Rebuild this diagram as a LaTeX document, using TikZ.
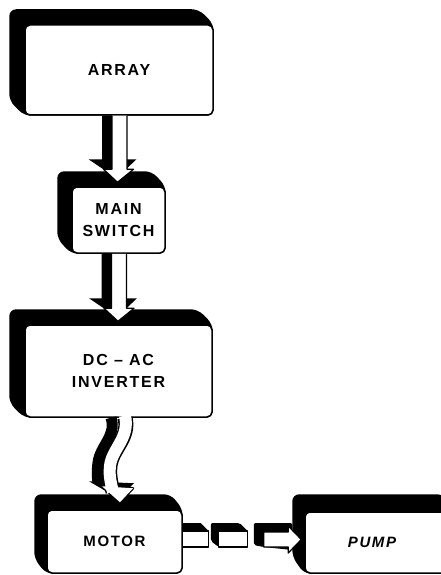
\documentclass[tikz,border=0pt]{standalone}
\usepackage{fontspec}
\setmainfont{Liberation Sans}
\newfontfamily\lblfont{Liberation Sans}[LetterSpace=11]
\usetikzlibrary{calc}
\pgfdeclarelayer{background}
\pgfsetlayers{background,main}
\newcommand\boxshadow[3]{%
  \fill[black, rounded corners=7pt] ($(#1.north west)+(#2,#3)$) -- ($(#1.north east)+(#2,#3)$)
    -- (#1.north east) -- (#1.south east) -- (#1.south west) -- ($(#1.south west)+(#2,#3)$) -- cycle;}
\newcommand\blockarrow[2]{% #1 top coordinate, #2 tip coordinate
  \fill[black] ($(#1)+(-17,0)$) -- ($(#1)+(-6,0)$) -- ($(#1 |- #2)+(-6,-23)$) -- ($(#2)+(19,-23)$)
    -- ($(#2)+(-1,-4)$) -- ($(#2)+(-29,-23)$) -- ($(#1 |- #2)+(-17,-23)$) -- cycle;
  \fill[white] ($(#1)+(-7,0)$) -- ($(#1 |- #2)+(-7,-13)$) -- ($(#2)+(-14,-13)$) -- (#2)
    -- ($(#2)+(16,-13)$) -- ($(#1 |- #2)+(8,-13)$) -- ($(#1)+(8,0)$) -- cycle;
  \draw[arrowline] ($(#1)+(-7,0)$) -- ($(#1 |- #2)+(-7,-13)$) -- ($(#2)+(-14,-13)$) -- (#2)
    -- ($(#2)+(16,-13)$) -- ($(#1 |- #2)+(8,-13)$) -- ($(#1)+(8,0)$);}
\begin{document}
\begin{tikzpicture}[x=1pt,y=-1pt,
  frontbox/.style={draw=black, line width=1.5pt, fill=white, rounded corners=5pt, inner sep=0pt,
    align=center, font=\lblfont\fontsize{16}{22}\selectfont\bfseries},
  smalltext/.style={font=\lblfont\fontsize{15}{22}\selectfont\bfseries},
  arrowline/.style={draw=black, line width=1.2pt, line join=round}]
\clip (0,0) rectangle (441,575);
\node[frontbox, minimum width=188pt, minimum height=90pt] (array) at (119,70) {ARRAY};
\node[frontbox, minimum width=93pt, minimum height=66pt] (switch) at (118.5,220) {MAIN\\SWITCH};
\node[frontbox, minimum width=187pt, minimum height=92pt] (inv) at (118.5,371) {DC \textendash\ AC\\INVERTER};
\node[frontbox, smalltext, minimum width=135pt, minimum height=63pt] (motor) at (114.5,541.5) {MOTOR};
\node[frontbox, smalltext, minimum width=150pt, minimum height=61pt] (pump) at (380,542.5) {\itshape PUMP\hspace*{16pt}};
\begin{pgfonlayer}{background}
  \fill[white] (0,0) rectangle (441,575);
  \boxshadow{array}{-15}{-15}
  \boxshadow{switch}{-14}{-15}
  \boxshadow{inv}{-15}{-15}
  \boxshadow{motor}{-12}{-15}
  \boxshadow{pump}{-12}{-17}
\end{pgfonlayer}
% straight arrows
\coordinate (t1) at (array.south);
\coordinate (h1) at ($(switch.north)+(-1,-4)$);
\blockarrow{t1}{h1}
\coordinate (t2) at (switch.south);
\coordinate (h2) at ($(inv.north)+(-0.5,-3)$);
\blockarrow{t2}{h2}
% wavy arrow
\coordinate (w0) at (inv.south);
\coordinate (w1) at ($(motor.north)+(5.5,-7)$);
\draw[black, line width=11pt] ($(w0)+(-7.5,0)$) .. controls ($(w0)+(-1.5,18)$) and ($(w0)+(-18.5,28)$) .. ($(w0)+(-20.5,45)$)
  .. controls ($(w0)+(-21.5,53)$) and ($(w0)+(-21.5,58)$) .. ($(w0)+(-20.5,65)$);
\fill[black] ($(w1)+(-31,-21)$) -- ($(w1)+(14,-19)$) -- ($(w1)+(-2,-4)$) -- cycle;
\draw[black, line width=15pt] ($(w0)+(6.5,0)$) .. controls ($(w0)+(11.5,20)$) and ($(w0)+(-6.5,31)$) .. ($(w0)+(-8.5,48)$)
  .. controls ($(w0)+(-9.5,55)$) and ($(w0)+(-8.5,63)$) .. ($(w0)+(-5.5,74)$);
\draw[black, line width=2.4pt, line join=round] ($(w1)+(-18,-16)$) -- ($(w1)+(13,-14)$) -- (w1) -- cycle;
\draw[white, line width=12pt] ($(w0)+(6.5,-2)$) .. controls ($(w0)+(11.5,20)$) and ($(w0)+(-6.5,31)$) .. ($(w0)+(-8.5,48)$)
  .. controls ($(w0)+(-9.5,55)$) and ($(w0)+(-8.5,63)$) .. ($(w0)+(-5.5,74)$);
\fill[white] ($(w1)+(-18,-16)$) -- ($(w1)+(13,-14)$) -- (w1) -- cycle;
% shaft coupling between motor and pump
\coordinate (m) at (motor.east);
\coordinate (p) at (pump.west);
\fill[black] ($(m)+(0,-18.5)$) -- ($(m)+(18,-18.5)$) -- ($(m)+(26,-10.5)$) -- ($(m)+(0,-10.5)$) -- cycle;
\filldraw[fill=white, arrowline] ($(m)+(0,-10.5)$) rectangle ($(m)+(26,5.5)$);
\fill[black, rounded corners=2pt] ($(m)+(28,-18.5)$) -- ($(m)+(57,-18.5)$) -- ($(m)+(65,-10.5)$) -- ($(m)+(65,5.5)$)
  -- ($(m)+(36,5.5)$) -- ($(m)+(28,-0.5)$) -- cycle;
\filldraw[fill=white, arrowline] ($(m)+(36,-10.5)$) rectangle ($(m)+(65,5.5)$);
\fill[black, rounded corners=2pt] ($(m)+(71,-18.5)$) -- ($(p)+(-12,-19.5)$) -- ($(p)+(-12,7.5)$) -- ($(m)+(81,5.5)$)
  -- ($(m)+(71,3.5)$) -- cycle;
\filldraw[fill=white, arrowline] ($(m)+(81,-9.5)$) -- ($(p)+(-16,-10.5)$) -- ($(p)+(-16,-16.5)$) -- ($(p)+(-3,-3)$)
  -- ($(p)+(-16,10.5)$) -- ($(p)+(-16,4.5)$) -- ($(m)+(81,5.5)$) -- cycle;
\end{tikzpicture}
\end{document}
